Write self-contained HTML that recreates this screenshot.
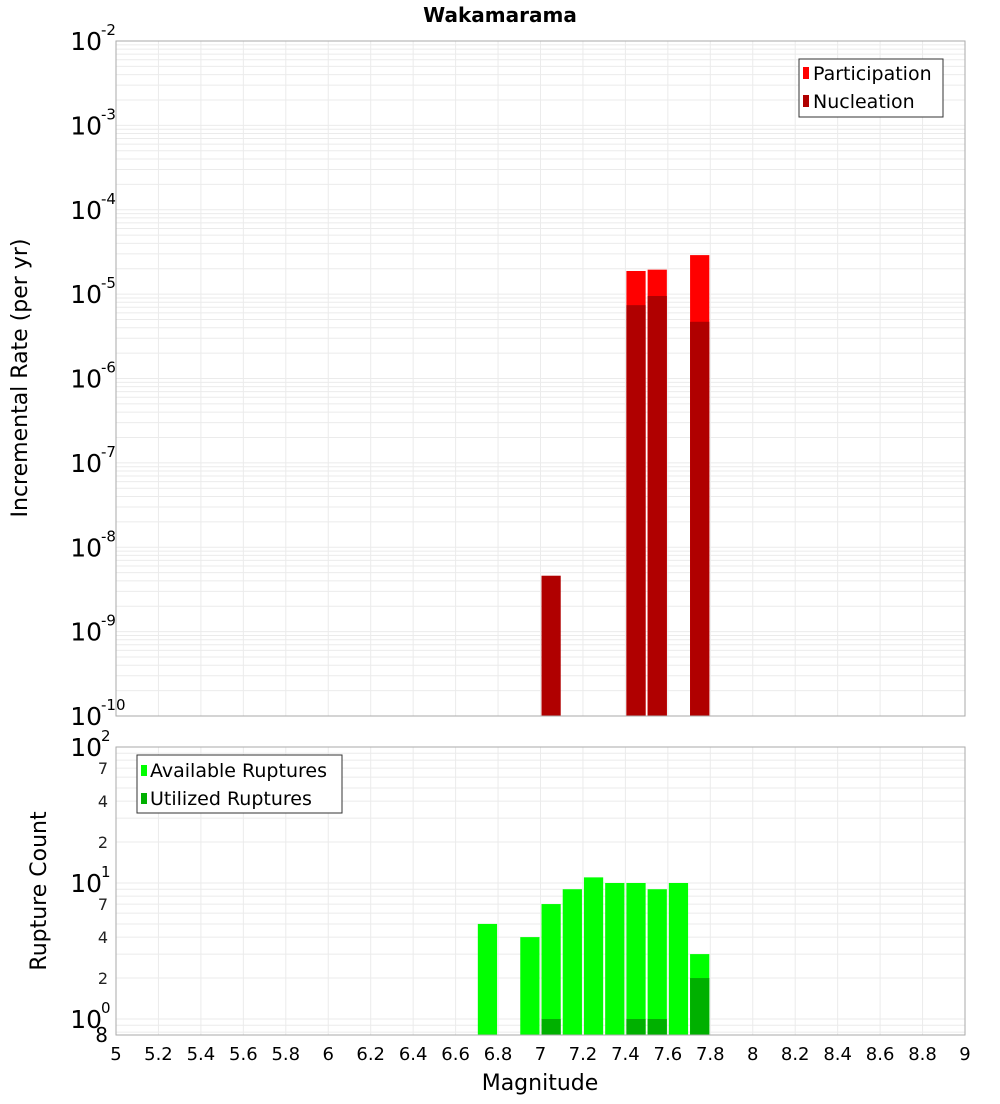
<!DOCTYPE html>
<html><head><meta charset="utf-8"><style>
body{margin:0;background:#fff;font-family:"DejaVu Sans","Liberation Sans",sans-serif}
svg text{font-family:"DejaVu Sans","Liberation Sans",sans-serif}
</style></head><body>
<svg id="c" width="1000" height="1100" xmlns="http://www.w3.org/2000/svg">
<text x="500" y="22" text-anchor="middle" font-size="20" font-weight="bold">Wakamarama</text>
<text transform="translate(27,378) rotate(-90)" text-anchor="middle" font-size="22">Incremental Rate (per yr)</text>
<text transform="translate(46,891) rotate(-90)" text-anchor="middle" font-size="22">Rupture Count</text>
<text x="540" y="1090" text-anchor="middle" font-size="22">Magnitude</text>
<g id="gtop"></g><g id="gbot"></g>
<g>
<rect x="799" y="59" width="144" height="58" fill="#fff" stroke="#333"/>
<rect x="803" y="67" width="6" height="12" fill="#ff0000"/><text x="813" y="80" font-size="19">Participation</text>
<rect x="803" y="95" width="6" height="12" fill="#b00000"/><text x="813" y="108" font-size="19">Nucleation</text>
</g>
<g>
<rect x="137" y="755" width="205" height="58" fill="#fff" stroke="#333"/>
<rect x="141" y="765" width="6" height="11" fill="#00ff00"/><text x="150" y="777" font-size="19">Available Ruptures</text>
<rect x="141" y="793" width="6" height="11" fill="#00b000"/><text x="150" y="805" font-size="19">Utilized Ruptures</text>
</g>
</svg>
<script>
const mags=[6.75,6.95,7.05,7.15,7.25,7.35,7.45,7.55,7.65,7.75];
const participation=[0,0,0,0,0,0,1.88e-5,1.95e-5,0,2.9e-5];
const nucleation=[0,0,4.6e-9,0,0,0,7.4e-6,9.5e-6,0,4.7e-6];
const available=[5,4,7,9,11,10,10,9,10,3];
const utilized=[0,0,1,0,0,0,1,1,0,2];
const xTicks=[5,5.2,5.4,5.6,5.8,6,6.2,6.4,6.6,6.8,7,7.2,7.4,7.6,7.8,8,8.2,8.4,8.6,8.8,9];
const NS="http://www.w3.org/2000/svg";
const L=116,R=965;
const x=m=>L+(m-5)/4*(R-L);
function mk(p,t,a){const e=document.createElementNS(NS,t);for(const k in a)e.setAttribute(k,a[k]);p.appendChild(e);return e;}
function panel(g,T,B,lmax,lmin,name,minorLabels){
  const y=v=>T+(lmax-Math.log10(v))/(lmax-lmin)*(B-T);
  mk(g,'rect',{x:L,y:T,width:R-L,height:B-T,fill:'#fff'});
  for(let d=Math.floor(lmin);d<lmax;d++)for(let k=1;k<10;k++){const v=k*Math.pow(10,d);const yy=y(v);if(yy<T-0.5||yy>B+0.5)continue;
    const ln=mk(g,'line',{x1:L,x2:R,y1:yy,y2:yy,stroke:'#ebebeb','stroke-width':1});
    
    }
  xTicks.forEach(t=>{const ln=mk(g,'line',{x1:x(t),x2:x(t),y1:T,y2:B,stroke:'#ebebeb'});
    
    });
  for(let d=Math.ceil(lmin);d<=lmax;d++){const yy=y(Math.pow(10,d));
    const t=mk(g,'text',{x:102,y:yy+9,'text-anchor':'end','font-size':25});t.textContent='10';
    
    
    const s=mk(g,'text',{x:101,y:yy-6,'font-size':15});s.textContent=String(d);
    
    
    if(minorLabels&&d<lmax)[2,4,7].forEach(k=>{const v=k*Math.pow(10,d);const y2=y(v);
      const m=mk(g,'text',{x:108,y:y2+6,'text-anchor':'end','font-size':16,fill:'#222'});m.textContent=String(k);
      
      });}
  return y;
}
const gTop=document.getElementById('gtop'),gBot=document.getElementById('gbot');
const yT=panel(gTop,41,716,-2,-10,'top',false);
const yB=panel(gBot,747,1035,2,-16/136,'bottom',true);
const e8=mk(gBot,'text',{x:108,y:1042,'text-anchor':'end','font-size':20});e8.textContent='8';


const bw=(x(5.1)-x(5))-2;
function bars(g,vals,yf,B,col,name){vals.forEach((v,i)=>{if(!v)return;const yy=Math.max(yf(v),0);
  const r=mk(g,'rect',{x:x(mags[i])-bw/2,y:yy,width:bw,height:B-yy,fill:col});
  
  });}
bars(gTop,participation,yT,716,'#ff0000','participation-bar');
bars(gTop,nucleation,yT,716,'#b00000','nucleation-bar');
bars(gBot,available,yB,1035,'#00ff00','available-bar');
bars(gBot,utilized,yB,1035,'#00b000','utilized-bar');
[[gTop,41,716],[gBot,747,1035]].forEach(([g,T,B])=>{const f=mk(g,'rect',{x:L,y:T,width:R-L,height:B-T,fill:'none',stroke:'#aaa'});
  
  });
xTicks.forEach(t=>{const tx=mk(gBot,'text',{x:x(t),y:1060,'text-anchor':'middle','font-size':18});tx.textContent=String(t);
  
  });
</script>
</body></html>
